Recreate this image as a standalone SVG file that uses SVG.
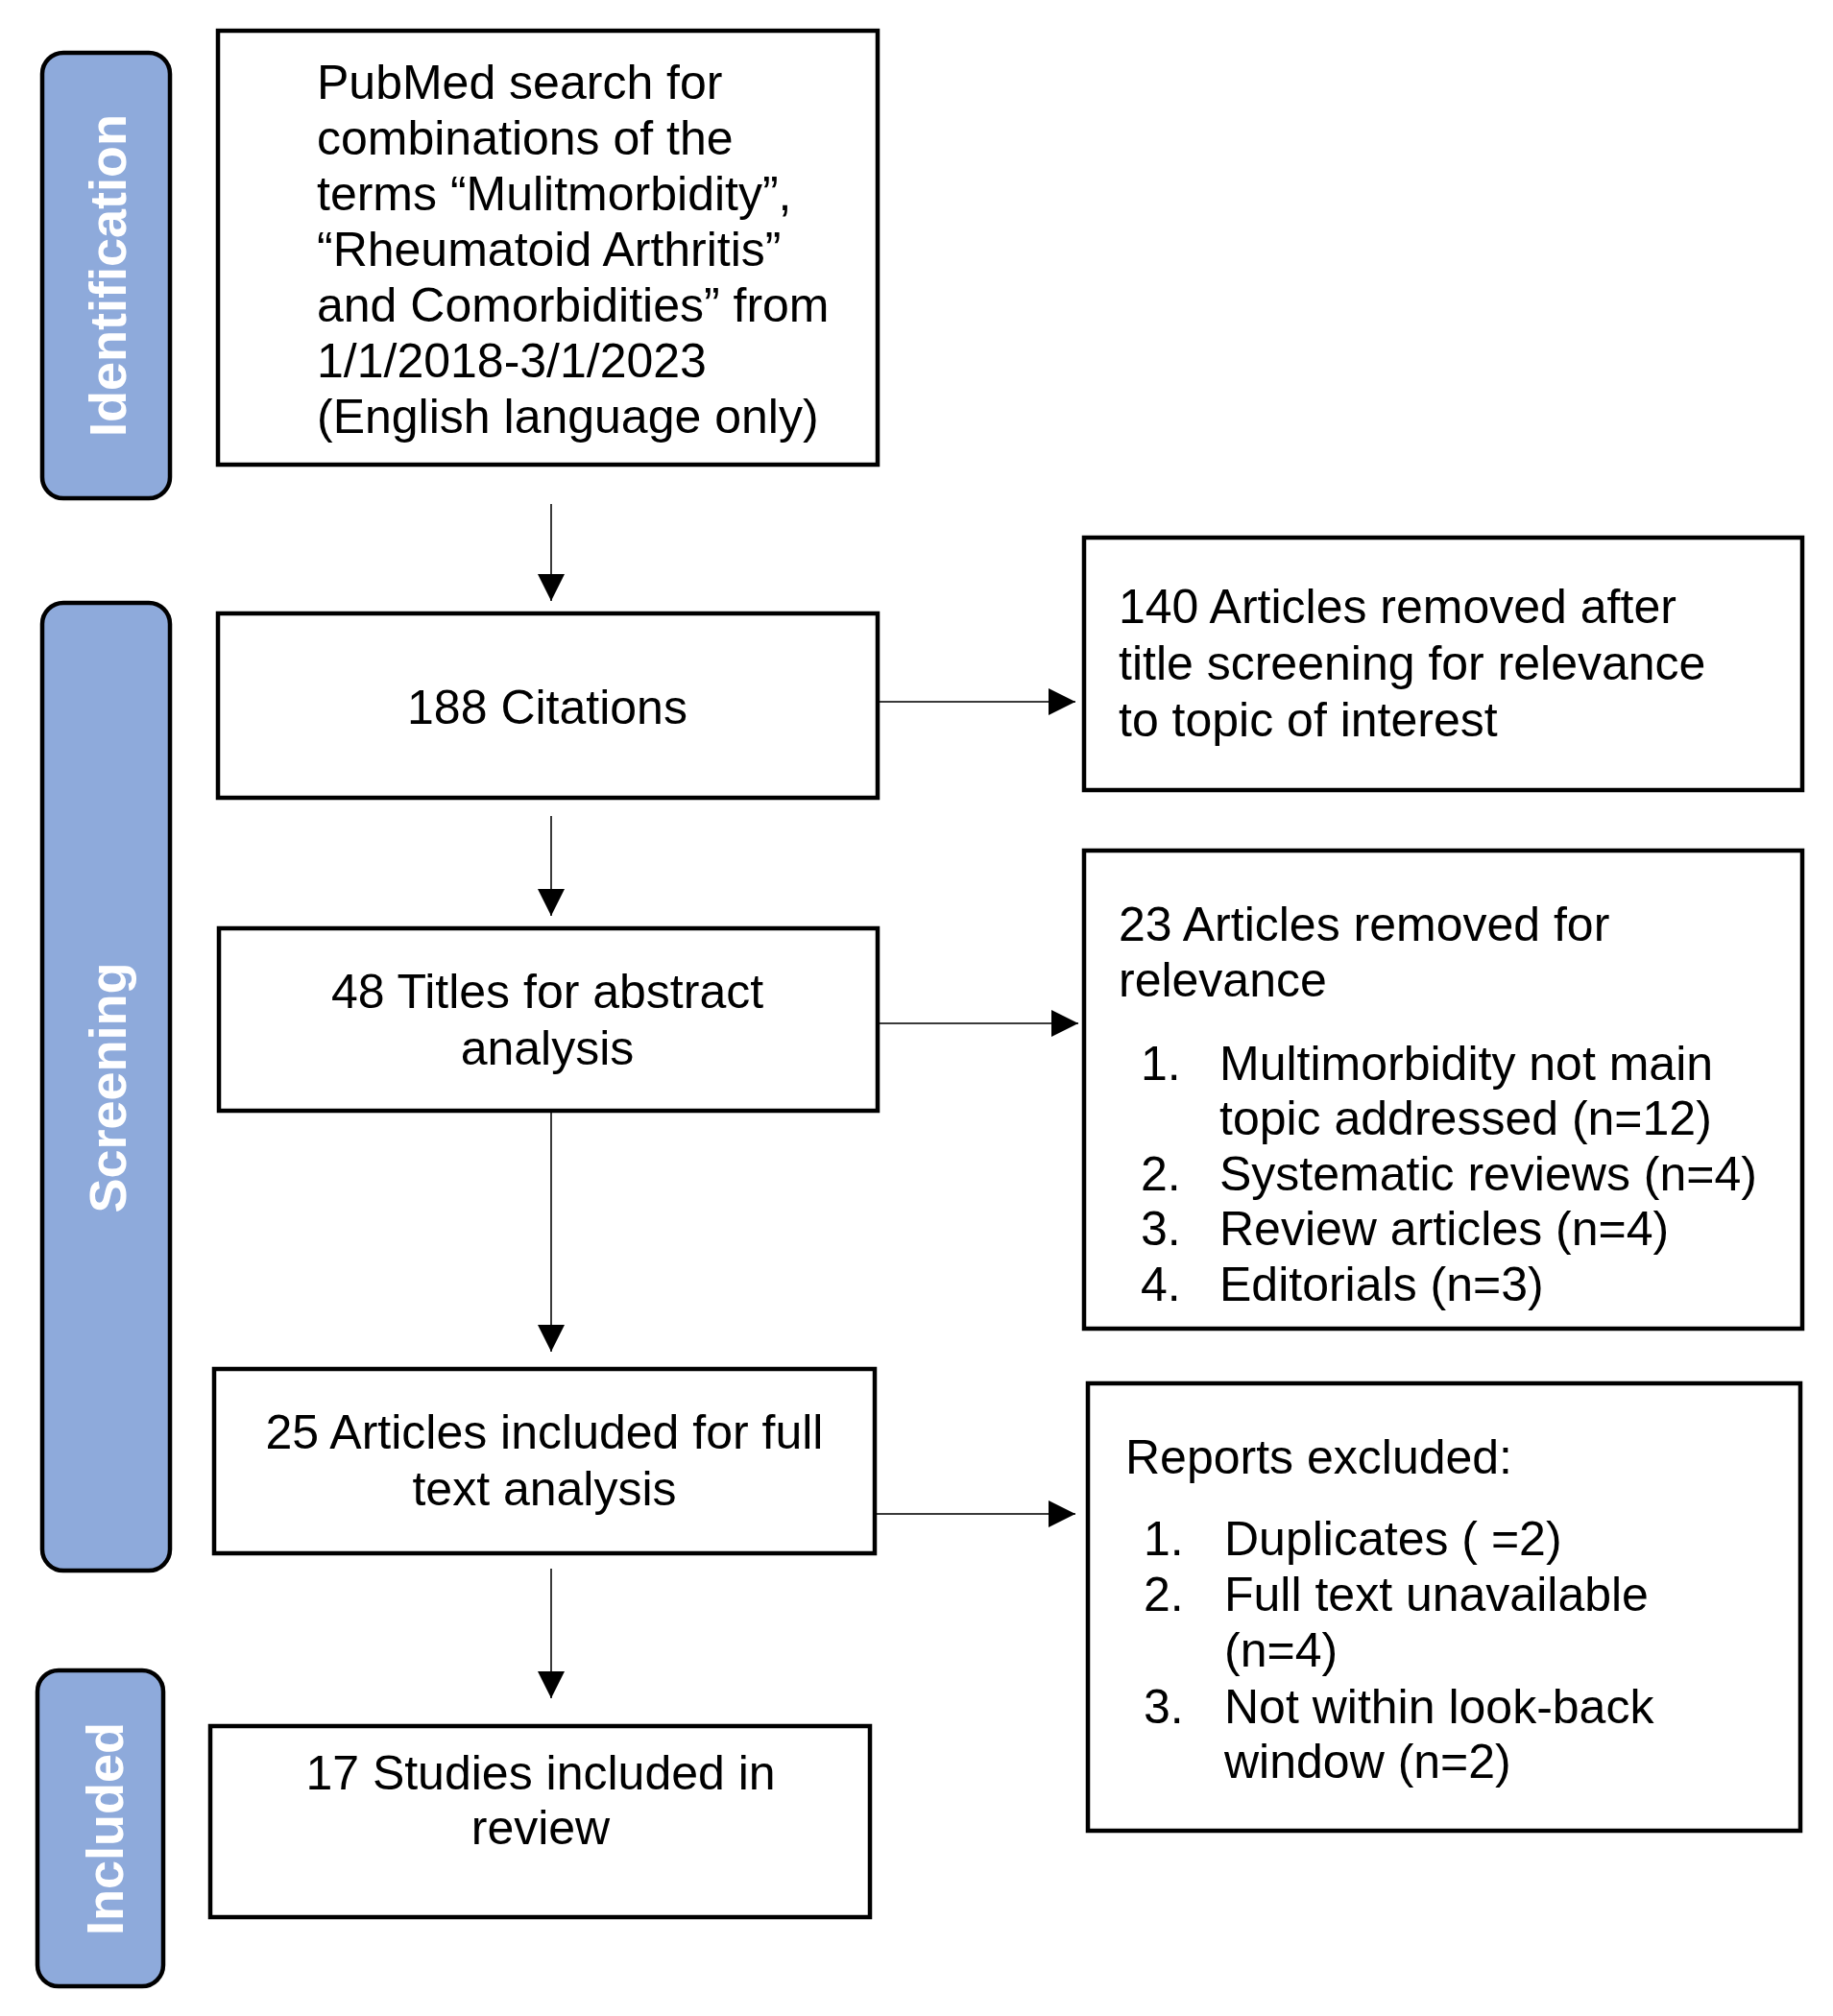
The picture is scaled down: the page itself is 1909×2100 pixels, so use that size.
<svg xmlns="http://www.w3.org/2000/svg" width="1909" height="2100" viewBox="0 0 1909 2100">
<defs>
<style>
.box{fill:#ffffff;stroke:#000000;stroke-width:4.5}
.bar{fill:#8eaadb;stroke:#000000;stroke-width:4.5}
.t{font-family:"Liberation Sans",Arial,sans-serif;font-size:50px;fill:#000000}
.c{text-anchor:middle}
.lab{font-family:"Liberation Sans",Arial,sans-serif;font-size:54px;font-weight:bold;fill:#ffffff;text-anchor:middle}
.con{stroke:#3a3a3a;stroke-width:2;fill:none}
</style>
<marker id="ah" viewBox="0 0 28 28" refX="28" refY="14" markerWidth="28" markerHeight="28" markerUnits="userSpaceOnUse" orient="auto">
<path d="M0,0 L28,14 L0,28 Z" fill="#000000"/>
</marker>
</defs>
<rect width="1909" height="2100" fill="#ffffff"/>

<g id="stage-identification">
<rect class="bar" x="44" y="55" width="133" height="464" rx="22"/>
<text class="lab" transform="translate(131,287) rotate(-90)">Identification</text>
</g>
<g id="stage-screening">
<rect class="bar" x="44" y="628" width="133" height="1008" rx="22"/>
<text class="lab" transform="translate(131,1133) rotate(-90)">Screening</text>
</g>
<g id="stage-included">
<rect class="bar" x="39" y="1740" width="131" height="329" rx="22"/>
<text class="lab" transform="translate(128,1905) rotate(-90)">Included</text>
</g>

<g id="connectors">
<line class="con" x1="574" y1="525" x2="574" y2="626" marker-end="url(#ah)"/>
<line class="con" x1="574" y1="850" x2="574" y2="954" marker-end="url(#ah)"/>
<line class="con" x1="574" y1="1157" x2="574" y2="1408" marker-end="url(#ah)"/>
<line class="con" x1="574" y1="1634" x2="574" y2="1769" marker-end="url(#ah)"/>
<line class="con" x1="914" y1="731" x2="1120" y2="731" marker-end="url(#ah)"/>
<line class="con" x1="914" y1="1066" x2="1123" y2="1066" marker-end="url(#ah)"/>
<line class="con" x1="911" y1="1577" x2="1120" y2="1577" marker-end="url(#ah)"/>
</g>

<g id="n-search">
<rect class="box" x="227" y="32" width="687" height="452"/>
<text class="t" x="330" y="103">PubMed search for</text>
<text class="t" x="330" y="161">combinations of the</text>
<text class="t" x="330" y="219">terms “Mulitmorbidity”,</text>
<text class="t" x="330" y="277">“Rheumatoid Arthritis”</text>
<text class="t" x="330" y="335">and Comorbidities” from</text>
<text class="t" x="330" y="393">1/1/2018-3/1/2023</text>
<text class="t" x="330" y="451">(English language only)</text>
</g>

<g id="n-citations">
<rect class="box" x="227" y="639" width="687" height="192"/>
<text class="t c" x="570" y="754">188 Citations</text>
</g>

<g id="n-titles">
<rect class="box" x="228" y="967" width="686" height="190"/>
<text class="t c" x="570" y="1050">48 Titles for abstract</text>
<text class="t c" x="570" y="1109">analysis</text>
</g>

<g id="n-fulltext">
<rect class="box" x="223" y="1426" width="688" height="192"/>
<text class="t c" x="567" y="1509">25 Articles included for full</text>
<text class="t c" x="567" y="1568">text analysis</text>
</g>

<g id="n-included">
<rect class="box" x="219" y="1798" width="687" height="199"/>
<text class="t c" x="563" y="1864">17 Studies included in</text>
<text class="t c" x="563" y="1921">review</text>
</g>

<g id="n-removed-title">
<rect class="box" x="1129" y="560" width="748" height="263"/>
<text class="t" x="1165" y="649">140 Articles removed after</text>
<text class="t" x="1165" y="708">title screening for relevance</text>
<text class="t" x="1165" y="767">to topic of interest</text>
</g>

<g id="n-removed-abstract">
<rect class="box" x="1129" y="886" width="748" height="498"/>
<text class="t" x="1165" y="980">23 Articles removed for</text>
<text class="t" x="1165" y="1038">relevance</text>
<text class="t" x="1188" y="1125">1.</text>
<text class="t" x="1270" y="1125">Multimorbidity not main</text>
<text class="t" x="1270" y="1182">topic addressed (n=12)</text>
<text class="t" x="1188" y="1240">2.</text>
<text class="t" x="1270" y="1240">Systematic reviews (n=4)</text>
<text class="t" x="1188" y="1297">3.</text>
<text class="t" x="1270" y="1297">Review articles (n=4)</text>
<text class="t" x="1188" y="1355">4.</text>
<text class="t" x="1270" y="1355">Editorials (n=3)</text>
</g>

<g id="n-reports-excluded">
<rect class="box" x="1133" y="1441" width="742" height="466"/>
<text class="t" x="1172" y="1535">Reports excluded:</text>
<text class="t" x="1191" y="1620">1.</text>
<text class="t" x="1275" y="1620">Duplicates ( =2)</text>
<text class="t" x="1191" y="1678">2.</text>
<text class="t" x="1275" y="1678">Full text unavailable</text>
<text class="t" x="1275" y="1736">(n=4)</text>
<text class="t" x="1191" y="1795">3.</text>
<text class="t" x="1275" y="1795">Not within look-back</text>
<text class="t" x="1275" y="1852">window (n=2)</text>
</g>
</svg>
